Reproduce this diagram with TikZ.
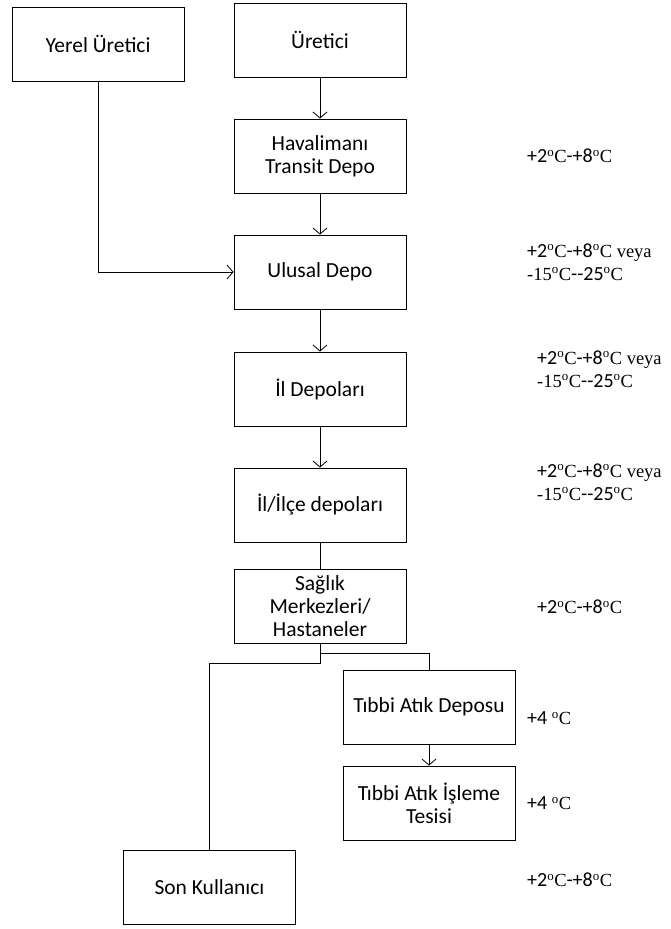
\documentclass[tikz,border=0pt]{standalone}
\usepackage{fontspec}
\setmainfont{Liberation Serif}
\newfontfamily\boxfont{Carlito}
\usetikzlibrary{arrows.meta}
\newcommand{\dC}{\textsuperscript{o}C}
\newcommand{\sn}[1]{{\boxfont\fontsize{20}{23}\selectfont #1}}

\begin{document}
\begin{tikzpicture}[x=1pt,y=-1pt]
\useasboundingbox (0,0) rectangle (671,929);
\begin{scope}[every node/.style={rectangle,draw,line width=0.9pt,minimum width=172pt,
              minimum height=74pt,inner sep=0pt,align=center,font=\boxfont\fontsize{21.5}{23}\selectfont}]
    \node (yerel) at (98,44) {Yerel Üretici};
    \node (uretici) at (320,40) {Üretici};
    \node (havalimani) at (320,156) {Havalimanı\\Transit Depo};
    \node (ulusal) at (320,272) {Ulusal Depo};
    \node (il) at (320,389) {İl Depoları};
    \node (ilce) at (320,505) {İl/İlçe depoları};
    \node (saglik) at (320,606) {Sağlık\\Merkezleri/\\Hastaneler};
    \node (atikdepo) at (429,707) {Tıbbi Atık Deposu};
    \node (atikisleme) at (429,803) {Tıbbi Atık İşleme\\Tesisi};
    \node (son) at (209.5,887) {Son Kullanıcı};
\end{scope}
\begin{scope}[every node/.style={anchor=west,align=left,inner sep=0pt,font=\fontsize{18.5}{23}\selectfont}]
    \node (t1) at (527,156) {\sn{+2}\dC\sn{-+8}\dC};
    \node (t2) at (527,262) {\sn{+2}\dC\sn{-+8}\dC{} veya\\-15\dC\sn{--25}\dC};
    \node (t3) at (537,369) {\sn{+2}\dC\sn{-+8}\dC{} veya\\-15\dC\sn{--25}\dC};
    \node (t4) at (537,482) {\sn{+2}\dC\sn{-+8}\dC{} veya\\-15\dC\sn{--25}\dC};
    \node (t5) at (537,607) {\sn{+2}\dC\sn{-+8}\dC};
    \node (t6) at (527,718) {\sn{+4} \dC};
    \node (t7) at (527,803) {\sn{+4} \dC};
    \node (t8) at (527,880) {\sn{+2}\dC\sn{-+8}\dC};
\end{scope}
\begin{scope}[every path/.style={draw=black,line width=0.8pt},
              arr/.style={-{Straight Barb[length=6pt,width=14pt]}}]
    \draw[arr] (yerel) |- (ulusal);
    \draw[arr] (uretici) -- (havalimani);
    \draw[arr] (havalimani) -- (ulusal);
    \draw[arr] (ulusal) -- (il);
    \draw[arr] (il) -- (ilce);
    \draw (ilce) -- (saglik);
    \draw (saglik.south) -- ++(0,10) -| (atikdepo.north);
    \draw (saglik.south) -- ++(0,20) -| (son.north);
    \draw[arr] (atikdepo) -- (atikisleme);
\end{scope}
\end{tikzpicture}
\end{document}
